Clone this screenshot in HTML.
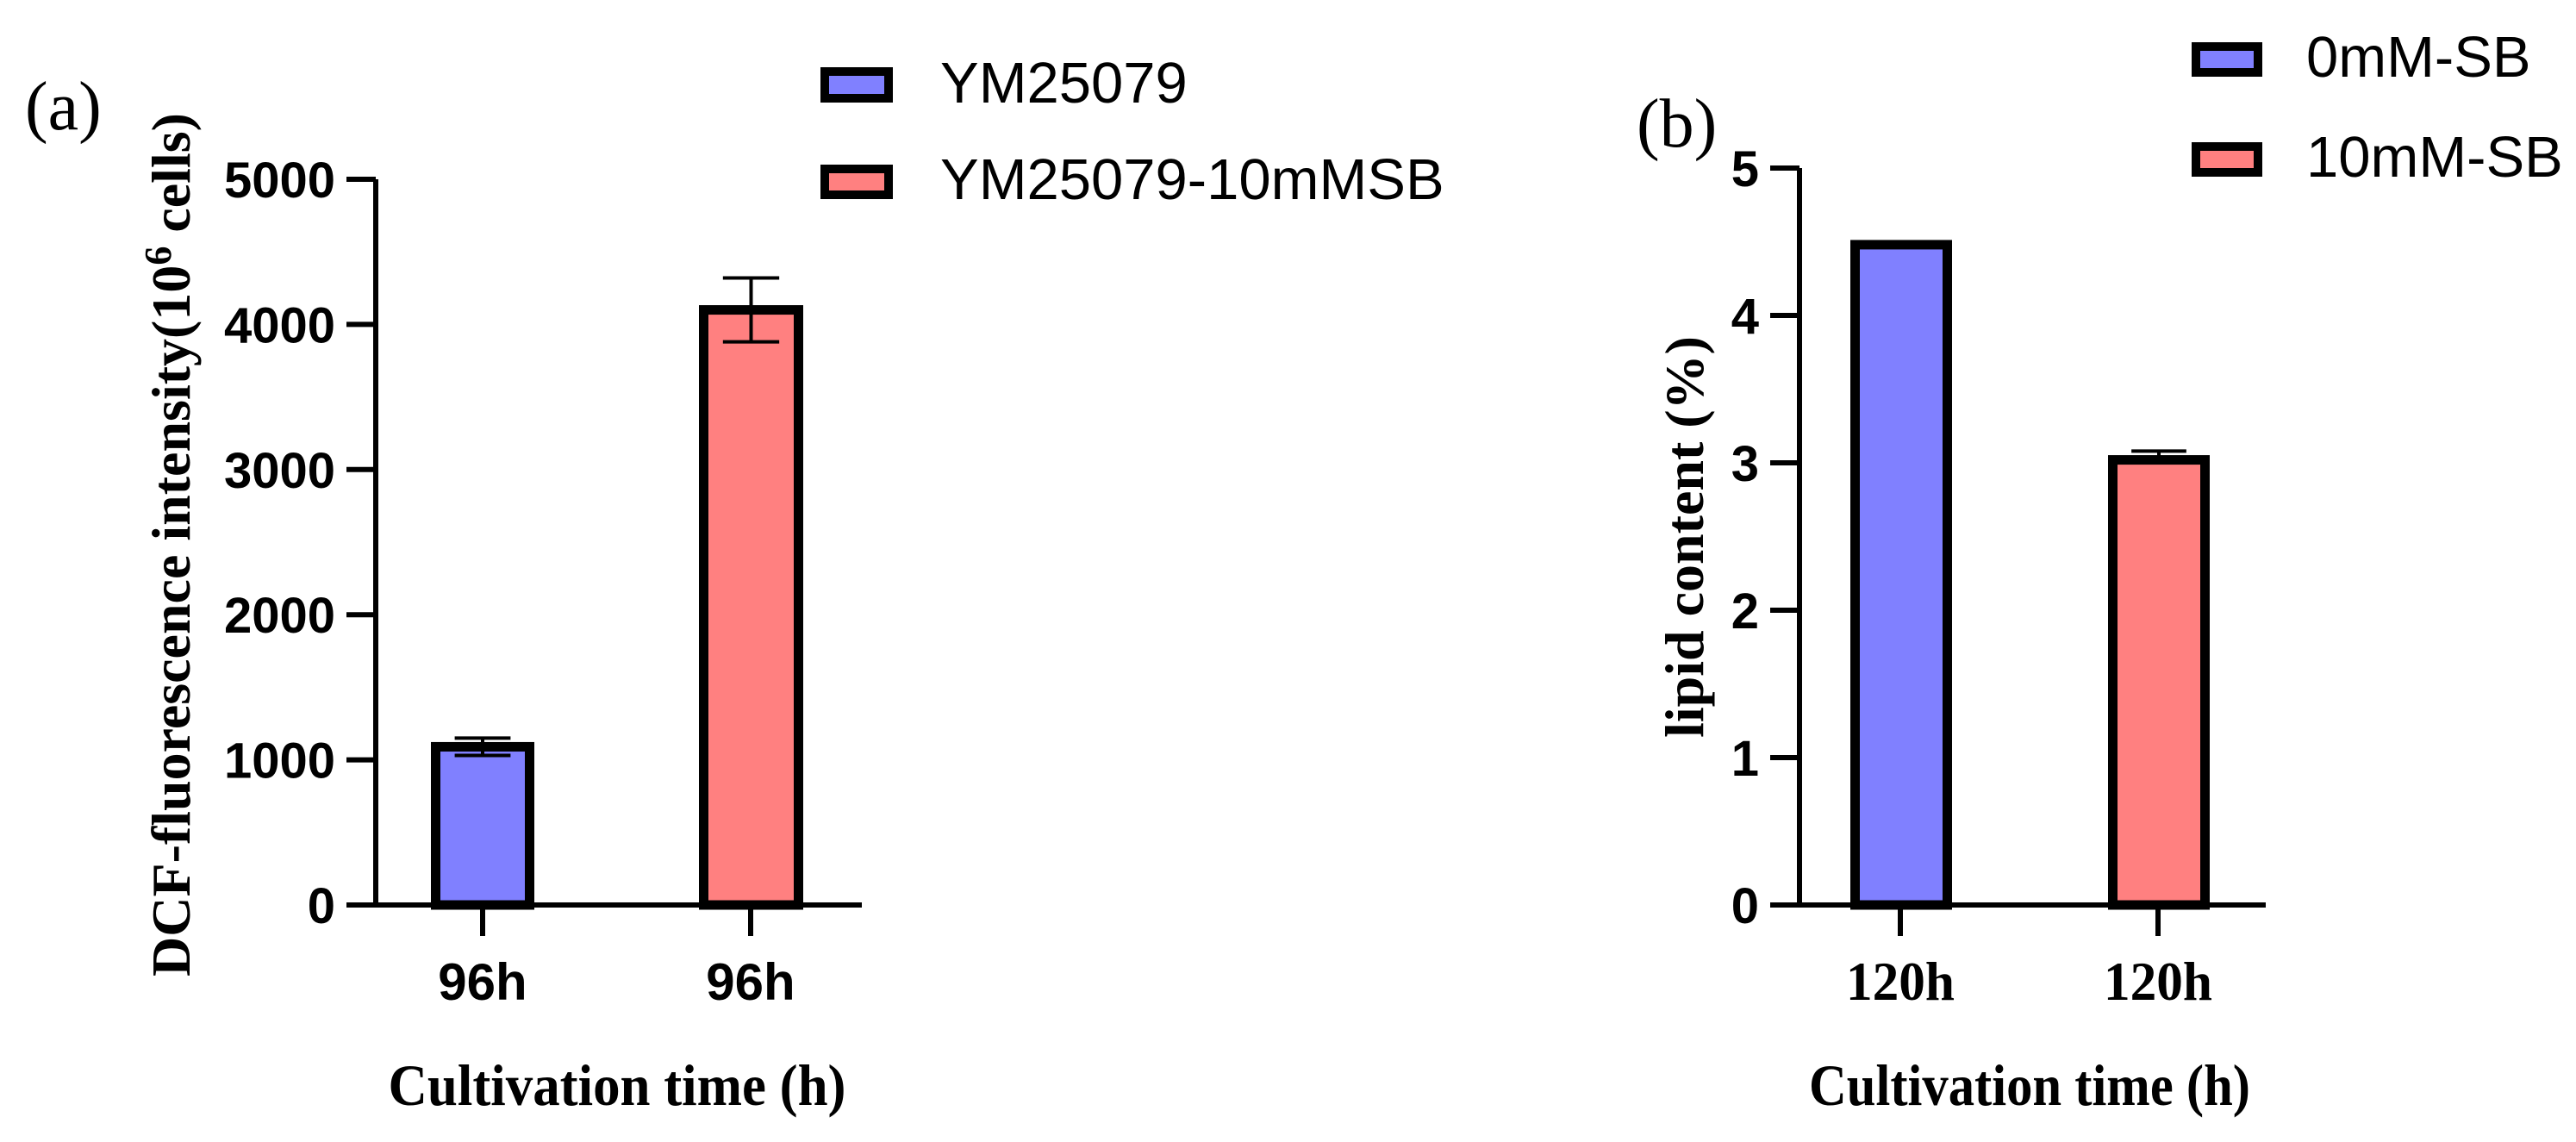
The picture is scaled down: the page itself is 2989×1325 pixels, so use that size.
<!DOCTYPE html>
<html><head><meta charset="utf-8"><style>html,body{margin:0;padding:0;background:#fff}svg{display:block}</style></head>
<body>
<svg id="c" width="2989" height="1325" viewBox="0 0 2989 1325" xmlns="http://www.w3.org/2000/svg"></svg>
<script>
const catsA = ["96h","96h"];
const valsA = [1090, 4100];
const errA = [60, 220];
const ticksA = [0,1000,2000,3000,4000,5000];
const legendA = ["YM25079","YM25079-10mMSB"];
const catsB = ["120h","120h"];
const valsB = [4.48, 3.02];
const errB = [0.02, 0.06];
const ticksB = [0,1,2,3,4,5];
const legendB = ["0mM-SB","10mM-SB"];
const colors = ["#8080ff","#ff8080"];
const NS="http://www.w3.org/2000/svg";
const svg=document.getElementById('c');
function mk(tag,attrs,parent,text){const e=document.createElementNS(NS,tag);for(const k in attrs)e.setAttribute(k,attrs[k]);if(text!==undefined)e.textContent=text;(parent||svg).appendChild(e);return e;}
function panel(p){
  const g=mk('g',{});
  
  
  const y=v=>p.y0-(v-p.min)/(p.max-p.min)*(p.y0-p.yTop);
  p.vals.forEach((v,i)=>{
    const [x1,x2]=p.bars[i];
    const r=mk('rect',{x:x1+5.5,y:y(v),width:x2-x1-11,height:p.y0-y(v),fill:colors[i],stroke:'#000','stroke-width':11},g);
    
    
    const cx=(x1+x2)/2, hw=(x2-x1)*0.27;
    const e=mk('path',{d:`M${cx} ${y(v)} V${y(v+p.err[i])} M${cx-hw} ${y(v+p.err[i])} H${cx+hw}`+(p.errBoth?` M${cx} ${y(v)} V${y(v-p.err[i])} M${cx-hw} ${y(v-p.err[i])} H${cx+hw}`:''),stroke:'#000','stroke-width':4,fill:'none'},g);
    
    
    const t=mk('line',{x1:p.ticksX[i],x2:p.ticksX[i],y1:p.y0,y2:p.y0+36,stroke:'#000','stroke-width':6},g);
    
    
    const l=mk('text',{x:p.ticksX[i],y:1160,'text-anchor':'middle','font-family':p.xFont,'font-weight':'bold','font-size':p.xSize},g,p.cats[i]);
    if(p.xLen){l.setAttribute('textLength',p.xLen);l.setAttribute('lengthAdjust','spacingAndGlyphs');}
    
    
  });
  const ax=mk('path',{d:`M${p.ax} ${p.yTop} V${p.y0} H${p.xEnd}`,stroke:'#000','stroke-width':6,fill:'none'},g);
  
  
  p.ticks.forEach(tv=>{
    const t=mk('line',{x1:p.tickL,x2:p.ax,y1:y(tv),y2:y(tv),stroke:'#000','stroke-width':6},g);
    
    
    const l=mk('text',{x:p.tickL-13,y:y(tv)+21,'text-anchor':'end','font-family':'Liberation Sans, sans-serif','font-weight':'bold','font-size':58},g,String(tv));
    
    
  });
  p.legend.forEach((s,i)=>{
    const b=p.legBoxes[i];
    const r=mk('rect',{x:b[0]+5,y:b[1]+5,width:b[2]-b[0]-10,height:b[3]-b[1]-10,fill:colors[i],stroke:'#000','stroke-width':10},g);
    
    
    const l=mk('text',{x:p.legX,y:b[3],'font-family':'Liberation Sans, sans-serif','font-size':67},g,s);
    
    
  });
  const yt=mk('text',{x:0,y:0,transform:`translate(${p.ytX},${p.ytY}) rotate(-90)`,'text-anchor':'middle','font-family':'Liberation Serif, serif','font-weight':'bold','font-size':64},g);
  yt.innerHTML=p.ytitle;
  
  
  const xt=mk('text',{x:p.xtX,y:1282,'text-anchor':'middle','font-family':'Liberation Serif, serif','font-weight':'bold','font-size':68,textLength:p.xtLen,lengthAdjust:'spacingAndGlyphs'},g,'Cultivation time (h)');
  
  
  const pl=mk('text',{x:p.plX,y:p.plY,'font-family':'Liberation Serif, serif','font-size':80},g,p.label);
  
  
}
panel({name:'panel-a',min:0,max:5000,y0:1050,yTop:208,ax:436,tickL:402,xEnd:1000,vals:valsA,err:errA,errBoth:true,cats:catsA,ticks:ticksA,
  bars:[[500,620],[811,932]],ticksX:[560,871],xFont:'Liberation Sans, sans-serif',xSize:60,legend:legendA,legBoxes:[[952,78,1036,119],[952,191,1036,231]],legX:1091,
  ytitle:'DCF-fluorescence intensity(10<tspan dy="-22" font-size="44">6</tspan><tspan dy="22"> cells)</tspan>',ytX:220,ytY:632,xtX:716,xtLen:531,plX:29,plY:150,label:'(a)'});
panel({name:'panel-b',min:0,max:5,y0:1050,yTop:195,ax:2088,tickL:2054,xEnd:2629,vals:valsB,err:errB,errBoth:false,cats:catsB,ticks:ticksB,
  bars:[[2147,2265],[2446,2564]],ticksX:[2205,2504],xFont:'Liberation Serif, serif',xSize:64,xLen:126,legend:legendB,legBoxes:[[2543,49,2625,89],[2543,165,2625,205]],legX:2676,
  ytitle:'lipid content (%)',ytX:1976,ytY:623,xtX:2355,xtLen:512,plX:1899,plY:170,label:'(b)'});
</script>
</body></html>
